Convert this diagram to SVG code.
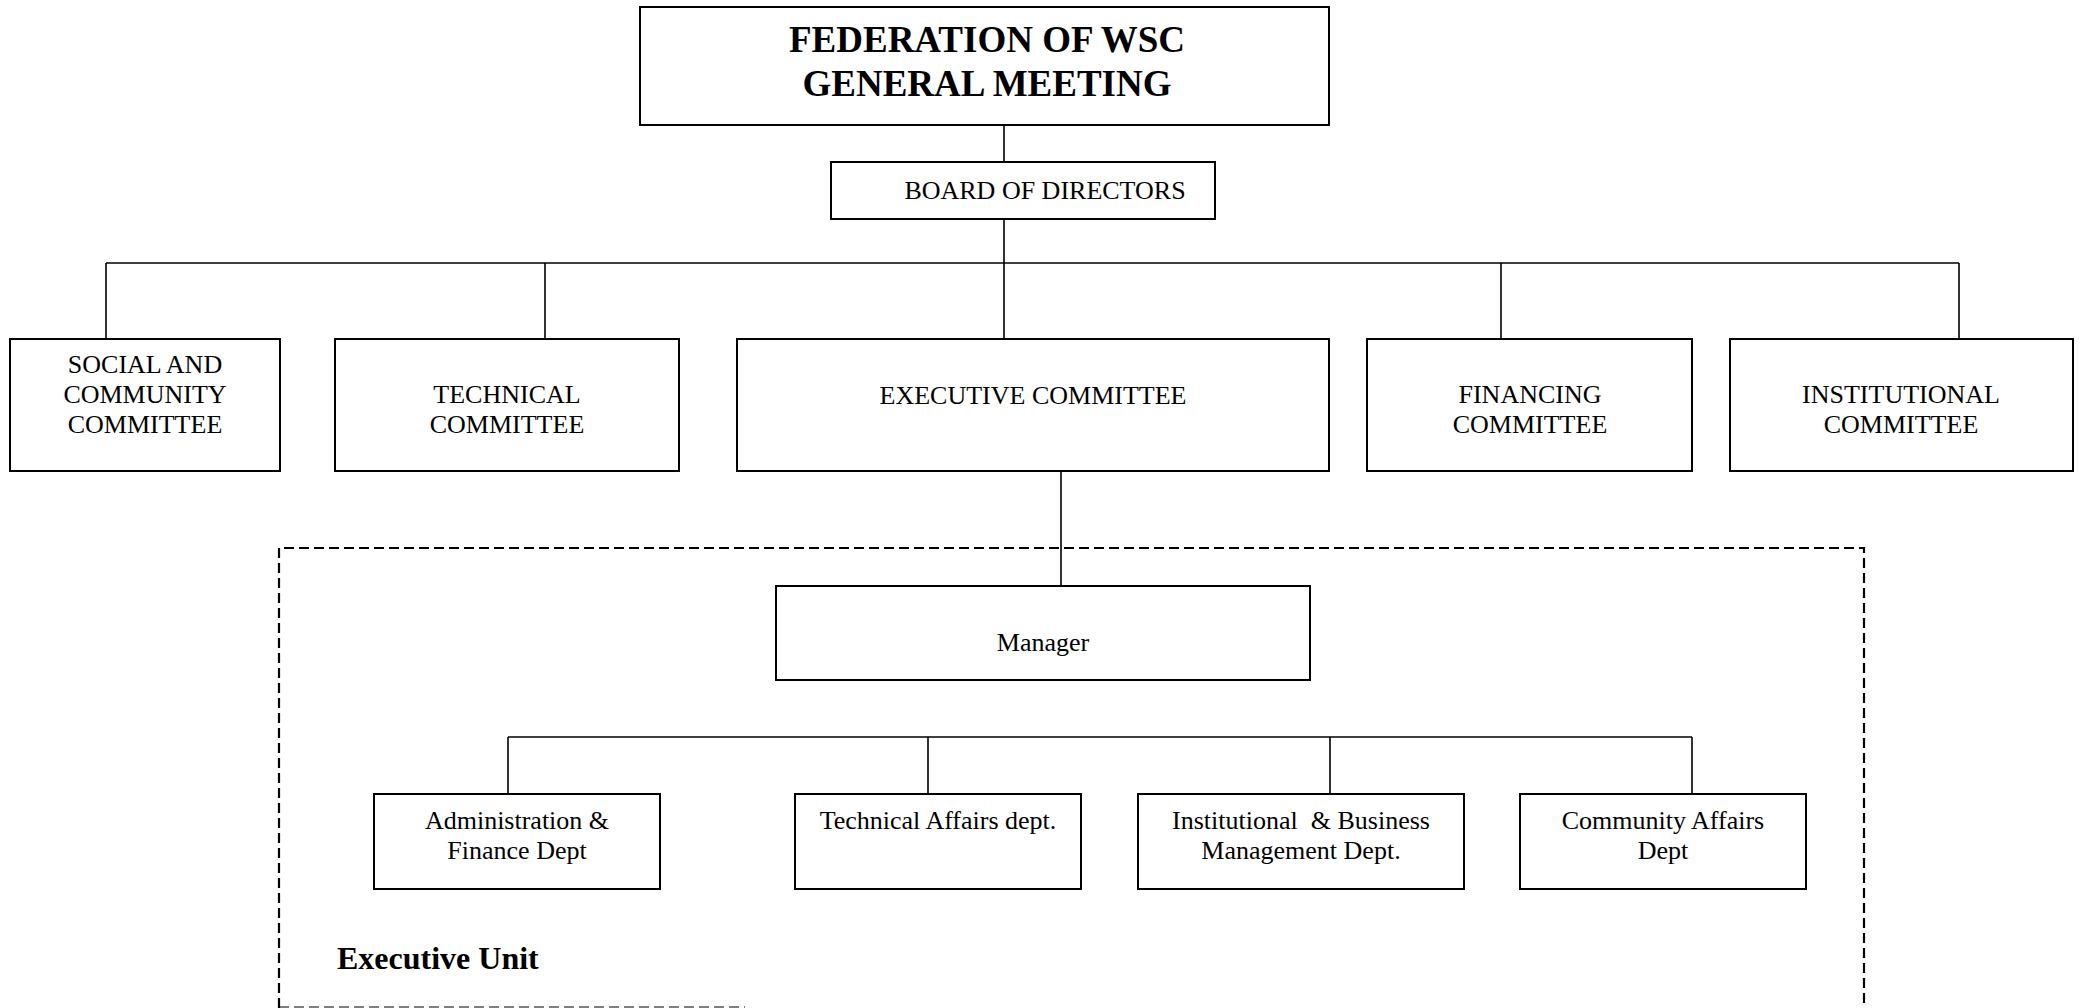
<svg xmlns="http://www.w3.org/2000/svg" width="2079" height="1008" viewBox="0 0 2079 1008">
  <style>
    .box { fill: #ffffff; stroke: #000000; stroke-width: 2; }
    .link { fill: none; stroke: #000000; stroke-width: 1.6; }
    .unit { fill: none; stroke: #000000; stroke-width: 2.2; stroke-dasharray: 10 5; }
    .lbl { font-family: "Liberation Serif", "Times New Roman", serif; font-size: 26px; fill: #000000; text-anchor: middle; }
    .title { font-family: "Liberation Serif", "Times New Roman", serif; font-size: 37px; font-weight: bold; fill: #000000; text-anchor: middle; }
    .unit-lbl { font-family: "Liberation Serif", "Times New Roman", serif; font-size: 32px; font-weight: bold; fill: #000000; }
  </style>
  <rect width="2079" height="1008" fill="#ffffff"/>

  <!-- Executive unit boundary (dashed) -->
  <g id="executive-unit">
    <path class="unit" d="M279,1008 V548 H1864 V1008"/>
    <path class="unit" d="M279,1007 H745" stroke-opacity="0.5"/>
    <text class="unit-lbl" x="337" y="969">Executive Unit</text>
  </g>

  <!-- Connectors -->
  <g id="connectors">
    <path class="link" d="M1004,125 V162"/>
    <path class="link" d="M1004,219 V339"/>
    <path class="link" d="M106,263 H1959"/>
    <path class="link" d="M106,263 V339"/>
    <path class="link" d="M545,263 V339"/>
    <path class="link" d="M1501,263 V339"/>
    <path class="link" d="M1959,263 V339"/>
    <path class="link" d="M1061,471 V586"/>
    <path class="link" d="M508,737 H1692"/>
    <path class="link" d="M508,737 V794"/>
    <path class="link" d="M928,737 V794"/>
    <path class="link" d="M1330,737 V794"/>
    <path class="link" d="M1692,737 V794"/>
  </g>

  <g id="general-meeting">
    <rect class="box" x="640" y="7" width="689" height="118"/>
    <text class="title" x="987" y="52">FEDERATION OF WSC</text>
    <text class="title" x="987" y="96">GENERAL MEETING</text>
  </g>

  <g id="board">
    <rect class="box" x="831" y="162" width="384" height="57"/>
    <text class="lbl" x="1045" y="199" font-size="27.5">BOARD OF DIRECTORS</text>
  </g>

  <g id="social-committee">
    <rect class="box" x="10" y="339" width="270" height="132"/>
    <text class="lbl" x="145" y="373">SOCIAL AND</text>
    <text class="lbl" x="145" y="403">COMMUNITY</text>
    <text class="lbl" x="145" y="433">COMMITTEE</text>
  </g>

  <g id="technical-committee">
    <rect class="box" x="335" y="339" width="344" height="132"/>
    <text class="lbl" x="507" y="403">TECHNICAL</text>
    <text class="lbl" x="507" y="433">COMMITTEE</text>
  </g>

  <g id="executive-committee">
    <rect class="box" x="737" y="339" width="592" height="132"/>
    <text class="lbl" x="1033" y="404">EXECUTIVE COMMITTEE</text>
  </g>

  <g id="financing-committee">
    <rect class="box" x="1367" y="339" width="325" height="132"/>
    <text class="lbl" x="1530" y="403">FINANCING</text>
    <text class="lbl" x="1530" y="433">COMMITTEE</text>
  </g>

  <g id="institutional-committee">
    <rect class="box" x="1730" y="339" width="343" height="132"/>
    <text class="lbl" x="1901" y="403">INSTITUTIONAL</text>
    <text class="lbl" x="1901" y="433">COMMITTEE</text>
  </g>

  <g id="manager">
    <rect class="box" x="776" y="586" width="534" height="94"/>
    <text class="lbl" x="1043" y="651">Manager</text>
  </g>

  <g id="admin-finance">
    <rect class="box" x="374" y="794" width="286" height="95"/>
    <text class="lbl" x="517" y="829">Administration &amp;</text>
    <text class="lbl" x="517" y="859">Finance Dept</text>
  </g>

  <g id="technical-affairs">
    <rect class="box" x="795" y="794" width="286" height="95"/>
    <text class="lbl" x="938" y="829">Technical Affairs dept.</text>
  </g>

  <g id="institutional-business">
    <rect class="box" x="1138" y="794" width="326" height="95"/>
    <text class="lbl" x="1301" y="829" xml:space="preserve">Institutional  &amp; Business</text>
    <text class="lbl" x="1301" y="859">Management Dept.</text>
  </g>

  <g id="community-affairs">
    <rect class="box" x="1520" y="794" width="286" height="95"/>
    <text class="lbl" x="1663" y="829">Community Affairs</text>
    <text class="lbl" x="1663" y="859">Dept</text>
  </g>
</svg>
